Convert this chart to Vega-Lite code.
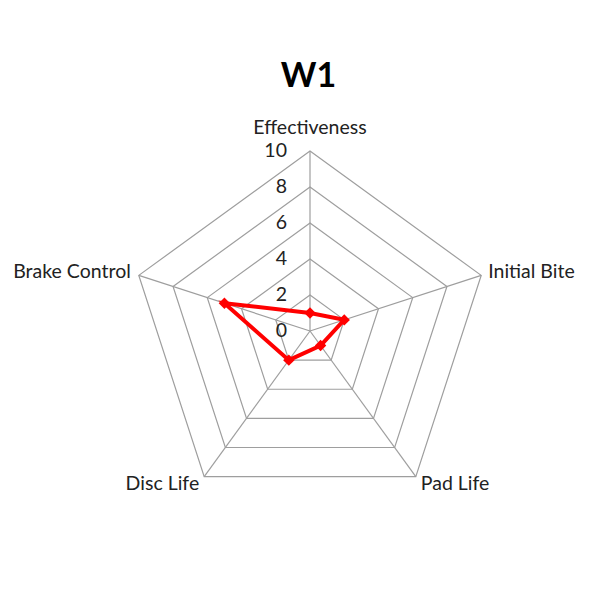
{
  "$schema": "https://vega.github.io/schema/vega-lite/v6.json",
  "width": 591,
  "height": 591,
  "padding": 0,
  "autosize": "none",
  "background": "white",
  "title": {
    "text": "W1",
    "font": "Lato",
    "fontSize": 34,
    "fontWeight": "bold",
    "color": "#000000",
    "anchor": "middle",
    "frame": "group",
    "offset": -94,
    "dx": 13
  },
  "datasets": {
    "scores": [
      {"axis": "Effectiveness", "score": 1},
      {"axis": "Initial Bite", "score": 2},
      {"axis": "Pad Life", "score": 1},
      {"axis": "Disc Life", "score": 2},
      {"axis": "Brake Control", "score": 5}
    ],
    "rings": [
      {"level": 2, "axis": ["Effectiveness", "Initial Bite", "Pad Life", "Disc Life", "Brake Control"]},
      {"level": 4, "axis": ["Effectiveness", "Initial Bite", "Pad Life", "Disc Life", "Brake Control"]},
      {"level": 6, "axis": ["Effectiveness", "Initial Bite", "Pad Life", "Disc Life", "Brake Control"]},
      {"level": 8, "axis": ["Effectiveness", "Initial Bite", "Pad Life", "Disc Life", "Brake Control"]},
      {"level": 10, "axis": ["Effectiveness", "Initial Bite", "Pad Life", "Disc Life", "Brake Control"]}
    ],
    "ticks": [
      {"level": 0}, {"level": 2}, {"level": 4}, {"level": 6}, {"level": 8}, {"level": 10}
    ]
  },
  "encoding": {
    "x": {"field": "x", "type": "quantitative", "axis": null, "scale": {"domain": [-17.222, 15.611], "nice": false, "zero": false}},
    "y": {"field": "y", "type": "quantitative", "axis": null, "scale": {"domain": [-14.444, 18.389], "nice": false, "zero": false}}
  },
  "layer": [
    {
      "data": {"name": "rings"},
      "transform": [
        {"flatten": ["axis"]},
        {"calculate": "indexof(['Effectiveness','Initial Bite','Pad Life','Disc Life','Brake Control'], datum.axis)", "as": "i"},
        {"calculate": "datum.level * sin(datum.i * 2 * PI / 5)", "as": "x"},
        {"calculate": "datum.level * cos(datum.i * 2 * PI / 5)", "as": "y"}
      ],
      "mark": {"type": "line", "interpolate": "linear-closed", "stroke": "#9e9e9e", "strokeWidth": 1.2},
      "encoding": {
        "detail": {"field": "level"},
        "order": {"field": "i"}
      }
    },
    {
      "data": {"name": "scores"},
      "transform": [
        {"calculate": "indexof(['Effectiveness','Initial Bite','Pad Life','Disc Life','Brake Control'], datum.axis)", "as": "i"},
        {"calculate": "10 * sin(datum.i * 2 * PI / 5)", "as": "x"},
        {"calculate": "10 * cos(datum.i * 2 * PI / 5)", "as": "y"}
      ],
      "mark": {"type": "rule", "stroke": "#9e9e9e", "strokeWidth": 1.2},
      "encoding": {
        "x2": {"datum": 0},
        "y2": {"datum": 0}
      }
    },
    {
      "data": {"name": "scores"},
      "transform": [
        {"calculate": "indexof(['Effectiveness','Initial Bite','Pad Life','Disc Life','Brake Control'], datum.axis)", "as": "i"},
        {"calculate": "datum.score * sin(datum.i * 2 * PI / 5)", "as": "x"},
        {"calculate": "datum.score * cos(datum.i * 2 * PI / 5)", "as": "y"}
      ],
      "layer": [
        {
          "mark": {"type": "line", "interpolate": "linear-closed", "stroke": "#ff0000", "strokeWidth": 4},
          "encoding": {"order": {"field": "i"}}
        },
        {
          "mark": {"type": "point", "shape": "diamond", "filled": true, "color": "#ff0000", "opacity": 1, "size": 130}
        }
      ]
    },
    {
      "data": {"name": "ticks"},
      "transform": [
        {"calculate": "0", "as": "x"},
        {"calculate": "datum.level", "as": "y"}
      ],
      "mark": {"type": "text", "align": "right", "baseline": "middle", "dx": -23, "font": "Lato", "fontSize": 19.5, "color": "#222222"},
      "encoding": {"text": {"field": "level"}}
    },
    {
      "data": {"name": "scores"},
      "transform": [
        {"calculate": "indexof(['Effectiveness','Initial Bite','Pad Life','Disc Life','Brake Control'], datum.axis)", "as": "i"},
        {"calculate": "10 * sin(datum.i * 2 * PI / 5)", "as": "x"},
        {"calculate": "10 * cos(datum.i * 2 * PI / 5)", "as": "y"}
      ],
      "layer": [
        {
          "transform": [{"filter": "datum.axis == 'Effectiveness'"}],
          "mark": {"type": "text", "align": "center", "baseline": "middle", "dy": -23, "font": "Lato", "fontSize": 19.5, "color": "#222222"},
          "encoding": {"text": {"field": "axis"}}
        },
        {
          "transform": [{"filter": "datum.axis == 'Initial Bite'"}],
          "mark": {"type": "text", "align": "left", "baseline": "middle", "dx": 7, "dy": -3, "font": "Lato", "fontSize": 19.5, "color": "#222222"},
          "encoding": {"text": {"field": "axis"}}
        },
        {
          "transform": [{"filter": "datum.axis == 'Pad Life'"}],
          "mark": {"type": "text", "align": "left", "baseline": "middle", "dx": 5, "dy": 7, "font": "Lato", "fontSize": 19.5, "color": "#222222"},
          "encoding": {"text": {"field": "axis"}}
        },
        {
          "transform": [{"filter": "datum.axis == 'Disc Life'"}],
          "mark": {"type": "text", "align": "right", "baseline": "middle", "dx": -5, "dy": 7, "font": "Lato", "fontSize": 19.5, "color": "#222222"},
          "encoding": {"text": {"field": "axis"}}
        },
        {
          "transform": [{"filter": "datum.axis == 'Brake Control'"}],
          "mark": {"type": "text", "align": "right", "baseline": "middle", "dx": -8, "dy": -3, "font": "Lato", "fontSize": 19.5, "color": "#222222"},
          "encoding": {"text": {"field": "axis"}}
        }
      ]
    }
  ],
  "config": {
    "view": {"stroke": null}
  }
}
